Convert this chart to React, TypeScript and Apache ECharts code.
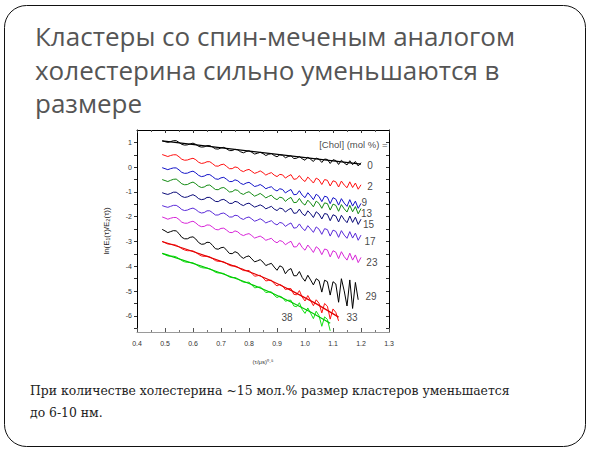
import React, { useEffect, useRef } from 'react';
import * as echarts from 'echarts';

// x grid, (τ/μs)^0.5
const xValues = [
  0.49, 0.5, 0.51, 0.52, 0.53, 0.54, 0.55, 0.56, 0.57, 0.58,
  0.59, 0.6, 0.61, 0.62, 0.63, 0.64, 0.65, 0.66, 0.67, 0.68,
  0.69, 0.7, 0.71, 0.72, 0.73, 0.74, 0.75, 0.76, 0.77, 0.78,
  0.79, 0.8, 0.81, 0.82, 0.83, 0.84, 0.85, 0.86, 0.87, 0.88,
  0.89, 0.9, 0.91, 0.92, 0.93, 0.94, 0.95, 0.96, 0.97, 0.98,
  0.99, 1.0, 1.01, 1.02, 1.03, 1.04, 1.05, 1.06, 1.07, 1.08,
  1.09, 1.1, 1.11, 1.12, 1.13, 1.14, 1.15, 1.16, 1.17, 1.18,
  1.19, 1.2,
];

const s0 = [
  1.06, 1.03, 1.0, 1.03, 1.07, 1.07, 1.0, 0.92, 0.89, 0.9,
  0.94, 0.97, 0.92, 0.84, 0.81, 0.82, 0.87, 0.87, 0.81, 0.74,
  0.73, 0.78, 0.8, 0.74, 0.67, 0.67, 0.72, 0.7, 0.62, 0.58,
  0.63, 0.66, 0.6, 0.53, 0.56, 0.6, 0.55, 0.47, 0.52, 0.55,
  0.47, 0.42, 0.5, 0.48, 0.38, 0.43, 0.46, 0.35, 0.36, 0.43,
  0.34, 0.28, 0.4, 0.32, 0.23, 0.37, 0.32, 0.19, 0.33, 0.31,
  0.15, 0.3, 0.27, 0.11, 0.28, 0.17, 0.09, 0.26, 0.1, 0.23,
  0.05, 0.18,
];
const s2 = [
  0.51, 0.47, 0.43, 0.47, 0.5, 0.5, 0.42, 0.32, 0.28, 0.29,
  0.33, 0.36, 0.3, 0.2, 0.15, 0.17, 0.22, 0.22, 0.14, 0.05,
  0.04, 0.1, 0.12, 0.03, -0.06, -0.06, 0.01, -0.02, -0.13, -0.18,
  -0.12, -0.09, -0.17, -0.25, -0.21, -0.15, -0.22, -0.32, -0.26, -0.22,
  -0.32, -0.38, -0.29, -0.31, -0.44, -0.36, -0.3, -0.49, -0.47, -0.34,
  -0.49, -0.58, -0.4, -0.51, -0.64, -0.44, -0.51, -0.7, -0.5, -0.53,
  -0.76, -0.55, -0.59, -0.8, -0.56, -0.72, -0.83, -0.59, -0.82, -0.64,
  -0.89, -0.71,
];
const s9 = [
  -0.02, -0.06, -0.1, -0.06, -0.03, -0.03, -0.11, -0.21, -0.25, -0.24,
  -0.19, -0.16, -0.23, -0.33, -0.38, -0.36, -0.3, -0.3, -0.38, -0.47,
  -0.49, -0.43, -0.41, -0.49, -0.58, -0.58, -0.51, -0.55, -0.65, -0.7,
  -0.64, -0.61, -0.69, -0.78, -0.75, -0.7, -0.77, -0.87, -0.82, -0.79,
  -0.9, -0.96, -0.87, -0.9, -1.04, -0.96, -0.9, -1.11, -1.1, -0.95,
  -1.13, -1.23, -1.03, -1.16, -1.31, -1.09, -1.18, -1.39, -1.17, -1.21,
  -1.47, -1.23, -1.29, -1.53, -1.27, -1.45, -1.58, -1.31, -1.57, -1.37,
  -1.66, -1.46,
];
const s13 = [
  -0.5, -0.54, -0.58, -0.53, -0.49, -0.48, -0.57, -0.67, -0.71, -0.7,
  -0.64, -0.6, -0.67, -0.77, -0.82, -0.8, -0.73, -0.72, -0.81, -0.9,
  -0.91, -0.84, -0.82, -0.9, -1.0, -0.99, -0.91, -0.94, -1.05, -1.1,
  -1.03, -0.99, -1.08, -1.17, -1.12, -1.06, -1.14, -1.24, -1.18, -1.13,
  -1.25, -1.31, -1.21, -1.24, -1.38, -1.28, -1.22, -1.43, -1.42, -1.26,
  -1.44, -1.53, -1.33, -1.45, -1.6, -1.37, -1.46, -1.66, -1.44, -1.47,
  -1.73, -1.49, -1.54, -1.78, -1.51, -1.68, -1.81, -1.54, -1.8, -1.59,
  -1.88, -1.67,
];
const s15 = [
  -1.03, -1.07, -1.1, -1.06, -1.01, -1.01, -1.09, -1.18, -1.22, -1.2,
  -1.15, -1.11, -1.17, -1.27, -1.31, -1.29, -1.22, -1.22, -1.3, -1.38,
  -1.39, -1.32, -1.3, -1.37, -1.46, -1.46, -1.38, -1.41, -1.5, -1.55,
  -1.48, -1.45, -1.53, -1.61, -1.57, -1.52, -1.58, -1.68, -1.63, -1.58,
  -1.69, -1.75, -1.65, -1.68, -1.81, -1.72, -1.66, -1.86, -1.85, -1.69,
  -1.87, -1.96, -1.76, -1.88, -2.03, -1.8, -1.89, -2.09, -1.87, -1.9,
  -2.16, -1.92, -1.97, -2.21, -1.94, -2.11, -2.24, -1.97, -2.23, -2.02,
  -2.31, -2.1,
];
const s17 = [
  -1.55, -1.59, -1.62, -1.58, -1.54, -1.54, -1.61, -1.71, -1.75, -1.73,
  -1.68, -1.65, -1.71, -1.8, -1.85, -1.83, -1.76, -1.76, -1.84, -1.93,
  -1.93, -1.87, -1.85, -1.92, -2.01, -2.01, -1.94, -1.96, -2.06, -2.11,
  -2.04, -2.01, -2.09, -2.18, -2.14, -2.08, -2.15, -2.25, -2.2, -2.16,
  -2.27, -2.33, -2.23, -2.26, -2.39, -2.31, -2.25, -2.46, -2.44, -2.29,
  -2.46, -2.56, -2.36, -2.49, -2.63, -2.41, -2.5, -2.71, -2.48, -2.52,
  -2.78, -2.54, -2.59, -2.83, -2.56, -2.74, -2.87, -2.6, -2.86, -2.66,
  -2.95, -2.74,
];
const s23 = [
  -2.01, -2.05, -2.1, -2.06, -2.03, -2.03, -2.11, -2.22, -2.26, -2.26,
  -2.21, -2.18, -2.25, -2.35, -2.4, -2.39, -2.33, -2.34, -2.42, -2.51,
  -2.53, -2.47, -2.46, -2.54, -2.63, -2.64, -2.57, -2.61, -2.71, -2.76,
  -2.71, -2.68, -2.76, -2.86, -2.82, -2.78, -2.85, -2.95, -2.91, -2.87,
  -2.99, -3.05, -2.96, -3.0, -3.13, -3.05, -2.99, -3.22, -3.21, -3.05,
  -3.24, -3.35, -3.14, -3.28, -3.44, -3.21, -3.3, -3.53, -3.3, -3.34,
  -3.62, -3.37, -3.43, -3.69, -3.41, -3.61, -3.75, -3.47, -3.75, -3.54,
  -3.85, -3.64,
];
const s29 = [
  -2.51, -2.57, -2.64, -2.6, -2.56, -2.57, -2.68, -2.83, -2.89, -2.89,
  -2.83, -2.81, -2.9, -3.04, -3.11, -3.1, -3.03, -3.04, -3.16, -3.29,
  -3.31, -3.25, -3.23, -3.35, -3.48, -3.49, -3.41, -3.46, -3.6, -3.68,
  -3.61, -3.58, -3.7, -3.82, -3.78, -3.73, -3.83, -3.97, -3.92, -3.88,
  -4.03, -4.16, -3.98, -4.04, -4.3, -4.15, -4.09, -4.38, -4.38, -4.21,
  -4.45, -4.6, -4.36, -4.55, -4.75, -4.5, -4.58, -5.04, -4.56, -4.62,
  -5.16, -4.62, -4.71, -5.45, -4.5, -4.99, -5.6, -4.55, -5.7, -4.65,
  -5.35,
];
const s33 = [
  -3.0, -3.05, -3.1, -3.11, -3.12, -3.15, -3.21, -3.29, -3.34, -3.37,
  -3.37, -3.38, -3.44, -3.52, -3.58, -3.6, -3.59, -3.62, -3.69, -3.77,
  -3.8, -3.8, -3.82, -3.89, -3.96, -3.99, -3.98, -4.03, -4.11, -4.17,
  -4.18, -4.17, -4.28, -4.4, -4.38, -4.36, -4.46, -4.59, -4.57, -4.56,
  -4.7, -4.79, -4.73, -4.79, -4.94, -4.9, -4.9, -5.13, -5.15, -4.98,
  -5.24, -5.4, -5.18, -5.38, -5.59, -5.35, -5.49, -5.88, -5.5, -5.61,
  -6.13, -5.72, -5.86, -6.2,
];
const s38 = [
  -3.48, -3.53, -3.58, -3.59, -3.59, -3.62, -3.69, -3.77, -3.82, -3.84,
  -3.85, -3.86, -3.92, -4.0, -4.05, -4.07, -4.07, -4.1, -4.16, -4.24,
  -4.27, -4.27, -4.29, -4.36, -4.43, -4.46, -4.45, -4.5, -4.58, -4.64,
  -4.65, -4.64, -4.75, -4.87, -4.85, -4.83, -4.93, -5.06, -5.04, -5.03,
  -5.17, -5.26, -5.2, -5.26, -5.41, -5.37, -5.37, -5.6, -5.63, -5.47,
  -5.74, -5.9, -5.68, -5.89, -6.11, -5.81, -5.99, -6.42, -6.04, -6.14,
  -6.6,
];

// fitted curves
const fit0X = [0.49, 1.2];
const fit0Y = [1.06, 0.12];
const fit33X = [0.49, 0.77, 0.95, 1.12];
const fit33Y = [-3.0, -4.09, -4.97, -6.05];
const fit38X = [0.49, 0.77, 0.95, 1.09];
const fit38Y = [-3.48, -4.56, -5.44, -6.3];

// tick values
const xTickLabels = ['0.4', '0.5', '0.6', '0.7', '0.8', '0.9', '1.0', '1.1', '1.2', '1.3'];
const yLabelValues = [-6, -5, -4, -3, -2, -1, 0, 1];
const yTickValues = [-6.5, -6, -5.5, -5, -4.5, -4, -3.5, -3, -2.5, -2, -1.5, -1, -0.5, 0, 0.5, 1];

const seriesDefs = [
  { name: '0', values: s0, color: '#000000' },
  { name: '2', values: s2, color: '#ff1010' },
  { name: '9', values: s9, color: '#1414c8' },
  { name: '13', values: s13, color: '#128a12' },
  { name: '15', values: s15, color: '#0a0a78' },
  { name: '17', values: s17, color: '#5a2ad8' },
  { name: '23', values: s23, color: '#d826d8' },
  { name: '29', values: s29, color: '#000000' },
  { name: '33', values: s33, color: '#ff1010' },
  { name: '38', values: s38, color: '#10e010' },
];

const fitDefs = [
  { xs: fit0X, ys: fit0Y, color: '#000000' },
  { xs: fit33X, ys: fit33Y, color: '#e00000' },
  { xs: fit38X, ys: fit38Y, color: '#00c800' },
];

// annotation anchors (data coordinates)
const annotations = [
  { text: '[Chol] (mol %) =', x: 1.295, y: 0.9, align: 'right', size: 9.5 },
  { text: '0', x: 1.232, y: 0.07 },
  { text: '2', x: 1.232, y: -0.77 },
  { text: '9', x: 1.212, y: -1.42 },
  { text: '13', x: 1.22, y: -1.88 },
  { text: '15', x: 1.227, y: -2.3 },
  { text: '17', x: 1.232, y: -2.98 },
  { text: '23', x: 1.239, y: -3.83 },
  { text: '29', x: 1.236, y: -5.23 },
  { text: '33', x: 1.168, y: -6.08 },
  { text: '38', x: 0.936, y: -6.08 },
];

const titleLines = [
  'Кластеры со спин-меченым аналогом',
  'холестерина сильно уменьшаются в',
  'размере',
];
const captionLines = [
  'При количестве холестерина ~15 мол.% размер кластеров уменьшается',
  'до 6-10 нм.',
];

const X_MIN = 0.4;
const X_MAX = 1.3;
const Y_MIN = -6.65;
const Y_MAX = 1.5;

export default function App() {
  const ref = useRef<HTMLDivElement>(null);

  useEffect(() => {
    document.body.style.margin = '0';
    if (!ref.current) return;
    const chart = echarts.init(ref.current, undefined, { renderer: 'svg' });

    const tickFont = { fontSize: 7, color: '#333', fontFamily: 'Liberation Sans' };

    const lineSeries: any[] = seriesDefs.map((d) => ({
      type: 'line',
      name: d.name,
      data: d.values.map((y, i) => [xValues[i], y]),
      showSymbol: false,
      symbol: 'none',
      lineStyle: { color: d.color, width: 1 },
      itemStyle: { color: d.color },
      silent: true,
      z: 3,
    }));

    const fitSeries: any[] = fitDefs.map((f) => ({
      type: 'line',
      data: f.xs.map((x, i) => [x, f.ys[i]]),
      showSymbol: false,
      symbol: 'none',
      smooth: true,
      lineStyle: { color: f.color, width: 1.2 },
      silent: true,
      z: 4,
    }));

    const labelSeries = {
      type: 'scatter',
      symbolSize: 1,
      itemStyle: { color: 'rgba(0,0,0,0)' },
      silent: true,
      z: 6,
      data: annotations.map((a) => ({
        value: [a.x, a.y],
        name: a.text,
        label: {
          align: a.align || 'center',
          fontSize: a.size || 10,
        },
      })),
      label: {
        show: true,
        position: 'inside',
        formatter: '{b}',
        color: '#111',
        fontSize: 10,
        fontFamily: 'Liberation Sans',
      },
    };

    const graphics: any[] = [
      {
        type: 'rect',
        shape: { x: 4.5, y: 5.5, width: 581, height: 441, r: 22 },
        style: { fill: 'none', stroke: '#111', lineWidth: 1 },
        silent: true,
      },
      ...titleLines.map((t, i) => ({
        type: 'text',
        x: 35,
        y: 36 + i * 33.5,
        style: {
          text: t,
          fontFamily: 'Open Sans',
          fontSize: 26,
          fill: '#555555',
          verticalAlign: 'middle',
        },
        silent: true,
      })),
      ...captionLines.map((t, i) => ({
        type: 'text',
        x: 30,
        y: 390 + i * 22,
        style: {
          text: t,
          fontFamily: 'DejaVu Serif',
          fontSize: 12.4,
          fill: '#222222',
          verticalAlign: 'middle',
        },
        silent: true,
      })),
    ];

    const option: any = {
      animation: false,
      backgroundColor: '#ffffff',
      grid: { left: 137, right: 201, top: 130, bottom: 119 },
      xAxis: [
        {
          type: 'value',
          position: 'bottom',
          min: X_MIN,
          max: X_MAX,
          interval: 0.1,
          axisLine: { show: true, onZero: false, lineStyle: { color: '#9a9a9a', width: 1 } },
          axisTick: { show: true, inside: true, length: 4, lineStyle: { color: '#555' } },
          minorTick: { show: true, splitNumber: 2, length: 2, lineStyle: { color: '#777' } },
          splitLine: { show: false },
          axisLabel: {
            ...tickFont,
            margin: 8,
            formatter: (v: number) => xTickLabels[Math.round((v - X_MIN) * 10)] ?? '',
          },
          name: '(τ/μs)⁰·⁵',
          nameLocation: 'middle',
          nameGap: 27,
          nameTextStyle: { fontSize: 6, color: '#333', fontFamily: 'Liberation Sans' },
        },
        {
          type: 'value',
          position: 'top',
          min: X_MIN,
          max: X_MAX,
          interval: 0.1,
          axisLine: { show: true, onZero: false, lineStyle: { color: '#000', width: 1 } },
          axisTick: { show: true, inside: true, length: 3, lineStyle: { color: '#333' } },
          minorTick: { show: true, splitNumber: 2, length: 2, lineStyle: { color: '#555' } },
          splitLine: { show: false },
          axisLabel: { show: false },
        },
      ],
      yAxis: [
        {
          type: 'value',
          position: 'left',
          min: Y_MIN,
          max: Y_MAX,
          axisLine: { show: true, onZero: false, lineStyle: { color: '#000', width: 1 } },
          axisTick: {
            show: true,
            inside: false,
            length: 3,
            customValues: yTickValues,
            lineStyle: { color: '#333' },
          },
          splitLine: { show: false },
          axisLabel: {
            ...tickFont,
            margin: 5,
            customValues: yLabelValues,
            formatter: (v: number) => String(v),
          },
          name: 'ln(E₁(τ)/E₂(τ))',
          nameLocation: 'middle',
          nameRotate: 90,
          nameGap: 27,
          nameTextStyle: { fontSize: 8, color: '#222', fontFamily: 'Liberation Sans' },
        },
        {
          type: 'value',
          position: 'right',
          min: Y_MIN,
          max: Y_MAX,
          axisLine: { show: true, onZero: false, lineStyle: { color: '#000', width: 1 } },
          axisTick: {
            show: true,
            inside: true,
            length: 3,
            customValues: yTickValues,
            lineStyle: { color: '#333' },
          },
          splitLine: { show: false },
          axisLabel: { show: false },
        },
      ],
      series: [...lineSeries, ...fitSeries, labelSeries],
      graphic: graphics,
    };

    chart.setOption(option);
    return () => chart.dispose();
  }, []);

  return <div ref={ref} style={{ width: 590, height: 451 }} />;
}
